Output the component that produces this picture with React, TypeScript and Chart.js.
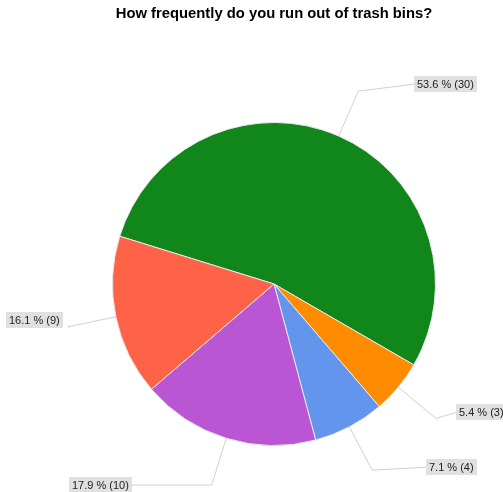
import React, { useEffect, useRef } from "react";
import { Chart, registerables } from "chart.js";

Chart.register(...registerables);

const TITLE = "How frequently do you run out of trash bins?";
const categories = ["Option A", "Option B", "Option C", "Option D", "Option E"];
const counts = [30, 3, 4, 10, 9];
const colors = ["#11861b", "#ff8c00", "#6495ed", "#ba55d3", "#ff6347"];

// label placement styling per slice: [dx, dy, gapX, gapY]
const labelOffsets: number[][] = [
  [56, -7, 0, 0],
  [20, -6, 0, 0],
  [54, -3, 0, 0],
  [-80, 0, 0, 0],
  [2, 0, 7, -7],
];

const TITLE_SIZE = 14.8;

const labelPlugin = {
  id: "sliceLabels",
  afterDraw(chart: any) {
    const ctx = chart.ctx;
    const meta = chart.getDatasetMeta(0);
    const data: number[] = chart.data.datasets[0].data;
    const total = data.reduce((a, b) => a + b, 0);
    ctx.save();
    ctx.font = "11px Arial, 'Liberation Sans', sans-serif";
    meta.data.forEach((arc: any, i: number) => {
      const { x, y, startAngle, endAngle, outerRadius } = arc.getProps(
        ["x", "y", "startAngle", "endAngle", "outerRadius"],
        true
      );
      const mid = (startAngle + endAngle) / 2;
      const cos = Math.cos(mid);
      const sin = Math.sin(mid);
      const ex = x + outerRadius * cos;
      const ey = y + outerRadius * sin;
      const bx = x + (outerRadius + 49) * cos;
      const by = y + (outerRadius + 49) * sin;
      const [dx, dy, gx, gy] = labelOffsets[i];
      const ax = bx + dx;
      const ay = by + dy;
      ctx.strokeStyle = "#d0d0d0";
      ctx.lineWidth = 1;
      ctx.beginPath();
      ctx.moveTo(ex, ey);
      ctx.lineTo(bx, by);
      ctx.lineTo(ax, ay);
      ctx.stroke();
      const text = `${((data[i] / total) * 100).toFixed(1)} % (${data[i]})`;
      const tw = ctx.measureText(text).width;
      const pad = 3;
      const w = tw + pad * 2;
      const h = 16;
      const right = cos >= 0;
      const left = right ? ax + gx : ax - gx - w;
      const cy = ay + gy;
      ctx.fillStyle = "#e0e0e0";
      ctx.fillRect(Math.round(left), Math.round(cy - h / 2), Math.round(w), h);
      ctx.fillStyle = "#222222";
      ctx.textBaseline = "middle";
      ctx.textAlign = "left";
      ctx.fillText(text, Math.round(left) + pad, Math.round(cy) + 0.5);
    });
    ctx.restore();
  },
};

export default function App() {
  const ref = useRef<HTMLCanvasElement | null>(null);
  useEffect(() => {
    if (!ref.current) return;
    const chart = new Chart(ref.current, {
      type: "pie",
      data: {
        labels: categories,
        datasets: [
          {
            data: counts,
            backgroundColor: colors,
            borderColor: "#e8e8e8",
            borderWidth: 1,
          },
        ],
      },
      options: {
        responsive: false,
        animation: false,
        rotation: -72.8,
        layout: { padding: { left: 112, right: 67, top: 0, bottom: 46 } },
        plugins: {
          legend: { display: false },
          tooltip: { enabled: false },
          title: {
            display: true,
            text: TITLE,
            color: "#000000",
            font: { family: "Arial, 'Liberation Sans', sans-serif", size: TITLE_SIZE, weight: "bold", lineHeight: 1.2 },
            padding: { top: 5, bottom: 122 - 5 - TITLE_SIZE * 1.2 },
          },
        },
      },
      plugins: [labelPlugin],
    });
    return () => chart.destroy();
  }, []);
  return (
    <div style={{ position: "absolute", left: 0, top: 0, width: 503, height: 492, background: "#fff" }}>
      <canvas ref={ref} width={503} height={492} />
    </div>
  );
}
